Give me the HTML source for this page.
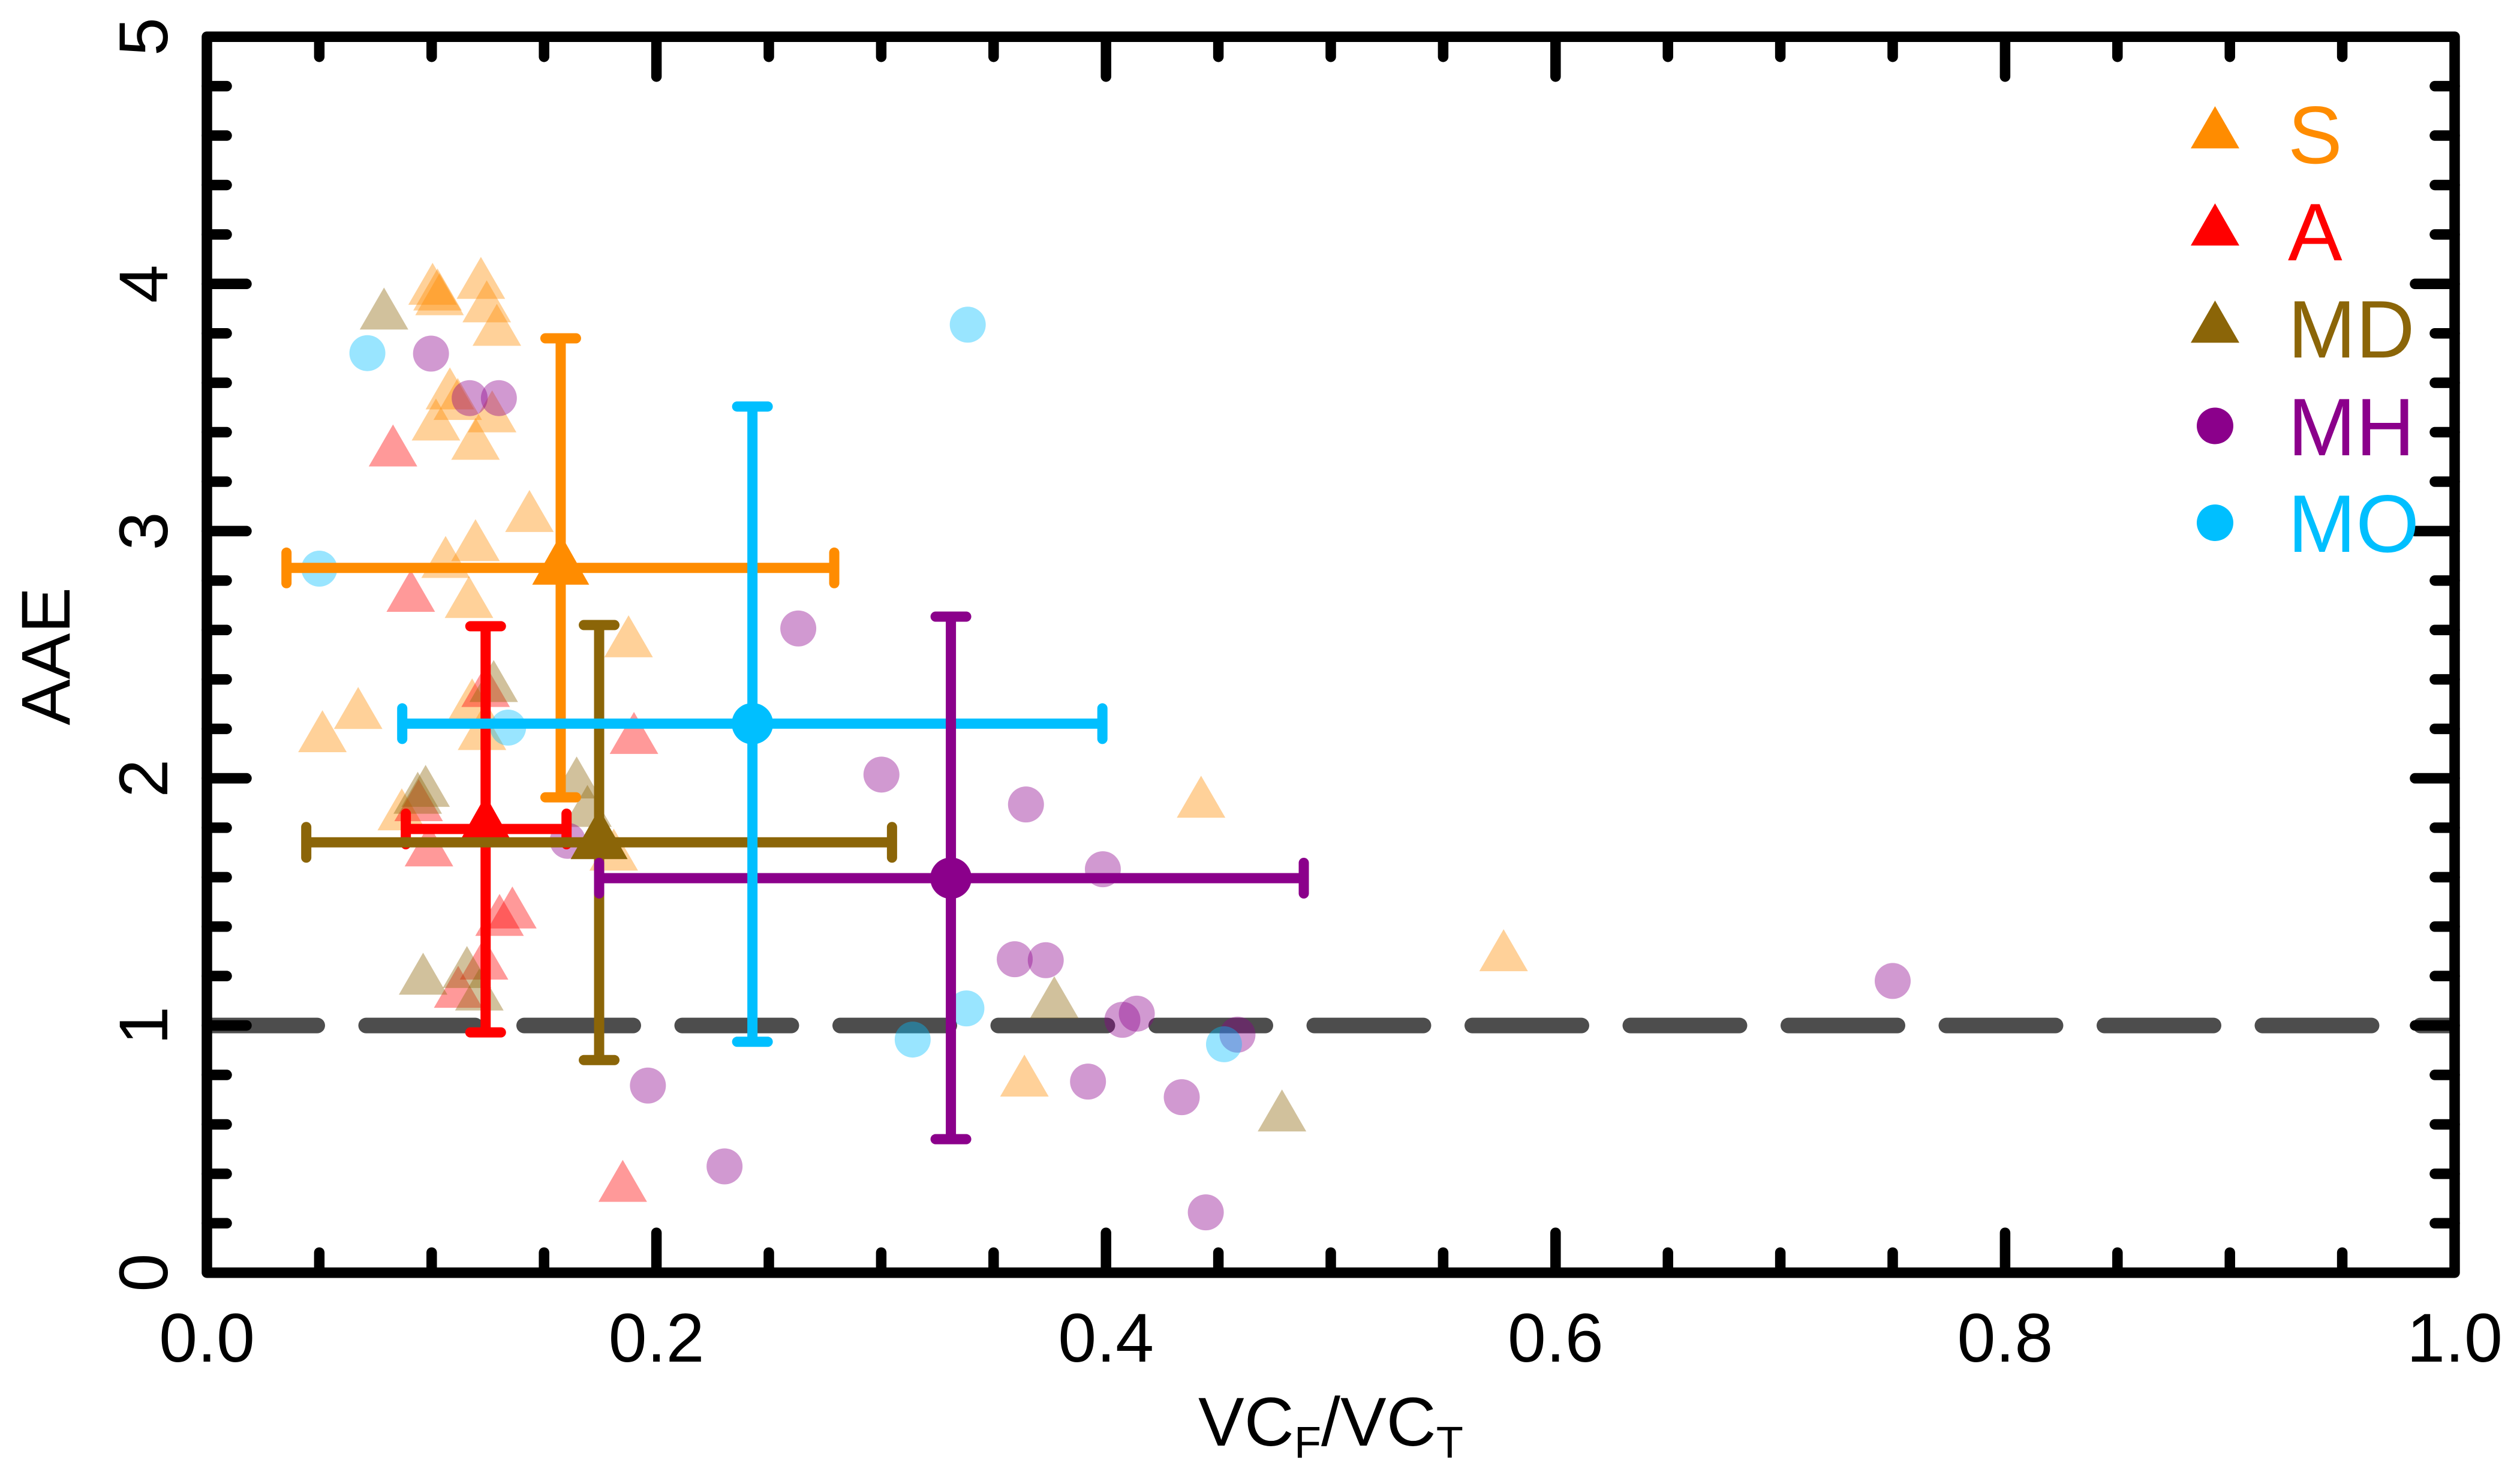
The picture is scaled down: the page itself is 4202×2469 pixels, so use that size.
<!DOCTYPE html>
<html>
<head>
<meta charset="utf-8">
<title>AAE vs VCF/VCT</title>
<style>
html,body{margin:0;padding:0;background:#fff;}
svg{display:block;font-family:"Liberation Sans",Arial,sans-serif;}
</style>
</head>
<body>
<svg id="chart" xmlns="http://www.w3.org/2000/svg" width="4202" height="2469" viewBox="0 0 4202 2469">
<defs><clipPath id="plotClip"><rect id="plotClipRect" x="345" y="61" width="3748" height="2061"/></clipPath></defs>
<rect x="0" y="0" width="4202" height="2469" fill="#ffffff"/>
<g id="refLayer" clip-path="url(#plotClip)"></g>
<g id="pointLayer"></g>
<g id="barLayer"></g>
<g id="axisLayer"></g>
<text transform="translate(116,1094) rotate(-90)" text-anchor="middle" font-size="115" fill="#000">AAE</text>
<text x="2219" y="2410" text-anchor="middle" font-size="115" fill="#000">VC<tspan font-size="74" dy="20">F</tspan><tspan dy="-20">/VC</tspan><tspan font-size="74" dy="20">T</tspan></text>
<g>
  <polygon points="3693.5,177 3734,247.4 3653,247.4" fill="#FF8C00"/>
  <text x="3815" y="272" font-size="136" fill="#FF8C00">S</text>
  <polygon points="3693.5,339 3734,409.4 3653,409.4" fill="#FF0000"/>
  <text x="3815" y="434" font-size="136" fill="#FF0000">A</text>
  <polygon points="3693.5,501 3734,571.4 3653,571.4" fill="#8B6508"/>
  <text x="3815" y="596" font-size="136" fill="#8B6508">MD</text>
  <circle cx="3693.5" cy="710" r="30.5" fill="#8B008B"/>
  <text x="3815" y="759" font-size="136" fill="#8B008B">MH</text>
  <circle cx="3693.5" cy="871.5" r="30.5" fill="#00BFFF"/>
  <text x="3815" y="920" font-size="136" fill="#00BFFF">MO</text>
</g>
</svg>
<script>
// ---- data ----
var sX = [0.1004,0.1026,0.1035,0.1219,0.1245,0.129,0.1081,0.1116,0.1019,0.1269,0.1195,0.1435,0.1195,0.1062,0.1166,0.1876,0.0673,0.0514,0.118,0.1224,0.0867,0.181,0.4423,0.5769,0.3637];
var sY = [3.972,3.949,3.930,3.996,3.901,3.806,3.549,3.506,3.423,3.456,3.345,3.053,2.935,2.867,2.705,2.546,2.256,2.162,2.291,2.171,1.846,1.683,1.897,1.276,0.769];
var aX = [0.0828,0.0907,0.1240,0.19,0.0942,0.0988,0.1302,0.1359,0.1233,0.1118,0.185];
var aY = [3.318,2.730,2.345,2.155,1.883,1.700,1.419,1.449,1.242,1.128,0.343];
var mdX = [0.0788,0.1276,0.0973,0.0938,0.1645,0.1693,0.0962,0.1157,0.1212,0.377,0.4783];
var mdY = [3.872,2.365,1.941,1.913,1.975,1.860,1.181,1.208,1.117,1.086,0.628];
var mhX = [0.0997,0.1169,0.1299,0.2631,0.1605,0.1962,0.2303,0.3001,0.3644,0.3986,0.3594,0.3732,0.4073,0.4137,0.4585,0.392,0.4337,0.4444,0.75];
var mhY = [3.718,3.538,3.538,2.606,1.747,0.757,0.430,2.015,1.894,1.632,1.268,1.264,1.023,1.048,0.963,0.773,0.710,0.244,1.180];
var moX = [0.0714,0.05,0.134,0.3385,0.3379,0.314,0.4525];
var moY = [3.720,2.848,2.205,3.835,1.069,0.943,0.924];

var groupNames = ['s','a','md','mh','mo'];
var meanX = [0.1574,0.1240,0.1745,0.331,0.2427];
var meanY = [2.851,1.795,1.741,1.596,2.221];
var xLow  = [0.0354,0.0885,0.0442,0.1745,0.0869];
var xHigh = [0.2791,0.16,0.3048,0.488,0.3984];
var yLow  = [1.923,0.972,0.860,0.540,0.934];
var yHigh = [3.780,2.615,2.62,2.654,3.504];

var xMajorTicks = [0,0.2,0.4,0.6,0.8,1.0];
var xMajorLabels = ['0.0','0.2','0.4','0.6','0.8','1.0'];
var xMinorTicks = [0.05,0.1,0.15,0.25,0.3,0.35,0.45,0.5,0.55,0.65,0.7,0.75,0.85,0.9,0.95];
var yMajorTicks = [0,1,2,3,4,5];
var yMajorLabels = ['0','1','2','3','4','5'];
var yMinorTicks = [0.2,0.4,0.6,0.8,1.2,1.4,1.6,1.8,2.2,2.4,2.6,2.8,3.2,3.4,3.6,3.8,4.2,4.4,4.6,4.8];
var refValue = [1];

// ---- axis functions ----
function px(v){ return 345 + 3748 * v; }
function py(v){ return 2121.7 - 412.1 * v; }

var NS = 'http://www.w3.org/2000/svg';
var COLORS = {s:'#FF8C00',a:'#FF0000',md:'#8B6508',mh:'#8B008B',mo:'#00BFFF'};

function mk(tag, attrs, parent){
  var el = document.createElementNS(NS, tag);
  for (var k in attrs) el.setAttribute(k, attrs[k]);
  parent.appendChild(el);
  return el;
}
function triPoints(cx, cy, w, up, down){
  return cx + ',' + (cy - up) + ' ' + (cx + w / 2) + ',' + (cy + down) + ' ' + (cx - w / 2) + ',' + (cy + down);
}

var refLayer = document.getElementById('refLayer');
var pointLayer = document.getElementById('pointLayer');
var barLayer = document.getElementById('barLayer');
var axisLayer = document.getElementById('axisLayer');

// reference line
var refLine = mk('line', {x1:px(0)+2, x2:px(1), y1:py(refValue[0]), y2:py(refValue[0]), stroke:'#4D4D4D', 'stroke-width':26, 'stroke-linecap':'round', 'stroke-dasharray':'182 81.5'}, refLayer);



// sample points
function drawTriangles(xs, ys, color, name){
  for (var i = 0; i < xs.length; i++){
    var t = mk('polygon', {points:triPoints(px(xs[i]), py(ys[i]), 81, 46.7, 23.3), fill:color, 'fill-opacity':0.4}, pointLayer);
    
    
  }
}
function drawCircles(xs, ys, color, name){
  for (var i = 0; i < xs.length; i++){
    var c = mk('circle', {cx:px(xs[i]), cy:py(ys[i]), r:30, fill:color, 'fill-opacity':0.4}, pointLayer);
    
    
  }
}
drawTriangles(sX, sY, COLORS.s, 'point-s');
drawTriangles(aX, aY, COLORS.a, 'point-a');
drawTriangles(mdX, mdY, COLORS.md, 'point-md');
drawCircles(mhX, mhY, COLORS.mh, 'point-mh');
drawCircles(moX, moY, COLORS.mo, 'point-mo');

// mean error bars
function drawH(i){
  var col = COLORS[groupNames[i]], y = py(meanY[i]);
  var g = mk('g', {stroke:col, 'stroke-width':17}, barLayer);
  
  
  mk('line', {x1:px(xLow[i]), x2:px(xHigh[i]), y1:y, y2:y}, g);
  mk('line', {x1:px(xLow[i]), x2:px(xLow[i]), y1:y-25.5, y2:y+25.5, 'stroke-linecap':'round'}, g);
  mk('line', {x1:px(xHigh[i]), x2:px(xHigh[i]), y1:y-25.5, y2:y+25.5, 'stroke-linecap':'round'}, g);
}
function drawV(i){
  var col = COLORS[groupNames[i]], x = px(meanX[i]);
  var g = mk('g', {stroke:col, 'stroke-width':17}, barLayer);
  
  
  mk('line', {x1:x, x2:x, y1:py(yLow[i]), y2:py(yHigh[i])}, g);
  mk('line', {x1:x-25.5, x2:x+25.5, y1:py(yLow[i]), y2:py(yLow[i]), 'stroke-linecap':'round'}, g);
  mk('line', {x1:x-25.5, x2:x+25.5, y1:py(yHigh[i]), y2:py(yHigh[i]), 'stroke-linecap':'round'}, g);
}
function drawMean(i){
  var name = groupNames[i], m;
  if (name === 'mh' || name === 'mo'){
    m = mk('circle', {cx:px(meanX[i]), cy:py(meanY[i]), r:34.5, fill:COLORS[name]}, barLayer);
  } else {
    m = mk('polygon', {points:triPoints(px(meanX[i]), py(meanY[i]), 95, 56, 28), fill:COLORS[name]}, barLayer);
  }
  
  
}
drawH(0); drawV(0); drawMean(0);
drawH(1); drawV(1); drawMean(1);
drawH(2); drawV(2); drawMean(2);
drawH(3); drawH(4); drawV(3); drawV(4); drawMean(3); drawMean(4);

// frame
var frame = mk('rect', {x:px(0), y:py(5), width:px(1)-px(0), height:py(0)-py(5), fill:'none', stroke:'#000', 'stroke-width':17.5, 'stroke-linejoin':'round'}, axisLayer);



// ticks
function xTick(v, len, name){
  var x = px(v);
  var a = mk('line', {x1:x, x2:x, y1:py(0), y2:py(0)-len, stroke:'#000', 'stroke-width':17.5, 'stroke-linecap':'round'}, axisLayer);
  
  
  var b = mk('line', {x1:x, x2:x, y1:py(5), y2:py(5)+len, stroke:'#000', 'stroke-width':17.5, 'stroke-linecap':'round'}, axisLayer);
  
  
}
function yTick(v, len, name){
  var y = py(v);
  var a = mk('line', {x1:px(0), x2:px(0)+len, y1:y, y2:y, stroke:'#000', 'stroke-width':17.5, 'stroke-linecap':'round'}, axisLayer);
  
  
  var b = mk('line', {x1:px(1), x2:px(1)-len, y1:y, y2:y, stroke:'#000', 'stroke-width':17.5, 'stroke-linecap':'round'}, axisLayer);
  
  
}
xMinorTicks.forEach(function(v){ xTick(v, 33.5, 'minor'); });
xMajorTicks.forEach(function(v, i){ if (i > 0 && i < xMajorTicks.length - 1) xTick(v, 66.5, 'major'); });
yMinorTicks.forEach(function(v){ yTick(v, 33, 'minor'); });
yMajorTicks.forEach(function(v, i){ if (i > 0 && i < yMajorTicks.length - 1) yTick(v, 66, 'major'); });

// tick labels
xMajorTicks.forEach(function(v, i){
  var t = mk('text', {x:px(v), y:2270, 'text-anchor':'middle', 'font-size':115, fill:'#000'}, axisLayer);
  t.textContent = xMajorLabels[i];
  
  
});
yMajorTicks.forEach(function(v, i){
  var t = mk('text', {transform:'translate(279,' + py(v) + ') rotate(-90)', 'text-anchor':'middle', 'font-size':115, fill:'#000'}, axisLayer);
  t.textContent = yMajorLabels[i];
  
  
});
</script>
</body>
</html>
